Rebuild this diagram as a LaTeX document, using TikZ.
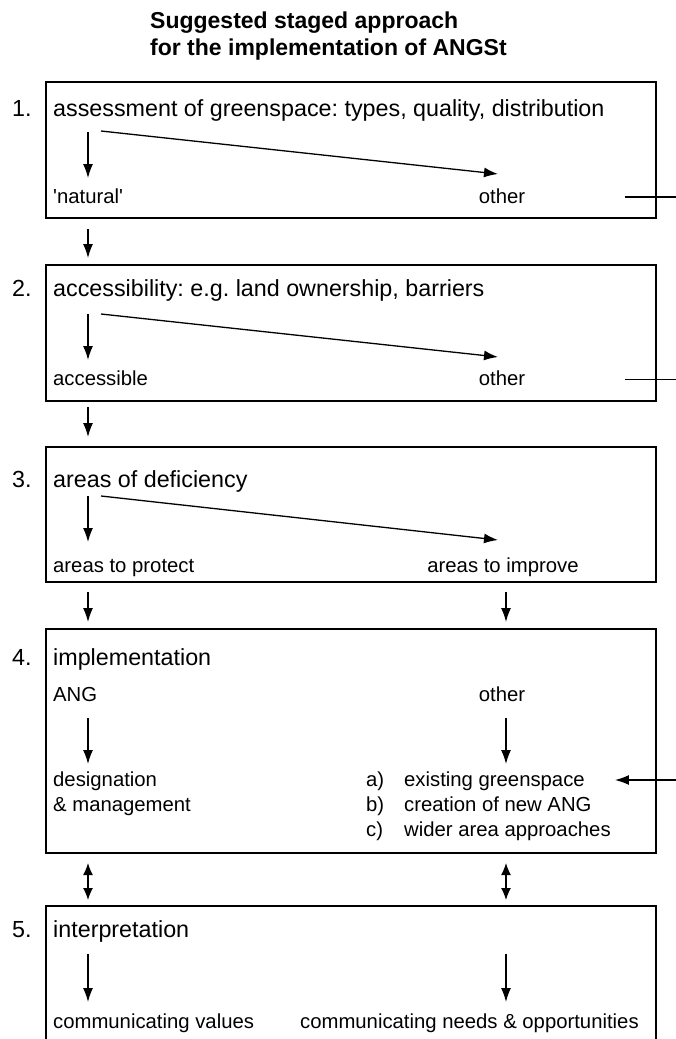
\documentclass[tikz,border=0pt]{standalone}
\usepackage{fontspec}
\setmainfont{Liberation Sans}
\usetikzlibrary{arrows.meta}
\frenchspacing
\newcommand{\mainsize}{\fontsize{23.3}{28}\selectfont}
\newcommand{\subsize}{\fontsize{20.3}{25}\selectfont}
\begin{document}
\begin{tikzpicture}[x=1pt,y=-1pt,
    box/.style={draw, line width=1.3pt, inner sep=0pt, outer sep=0pt, minimum width=610pt, anchor=north west},
    head/.style={anchor=base west, inner sep=0pt, font=\mainsize},
    lbl/.style={anchor=base west, inner sep=0pt, font=\subsize},
    arr/.style={-{Latex[length=14pt,width=10pt]}, line width=1.3pt},
    darr/.style={{Latex[length=12pt,width=10pt]}-{Latex[length=12pt,width=10pt]}, line width=1.3pt}]
    \useasboundingbox (0,0) rectangle (676,1039);
    % title (base = second line)
    \node[anchor=base west, inner sep=0pt, align=left, font=\fontsize{23}{27}\selectfont\bfseries] (title) at (150,55)
        {Suggested staged approach\\for the implementation of ANGSt};
    % boxes
    \node[box, minimum height=136pt] (b1) at (46,82) {};
    \node[box, minimum height=136pt] (b2) at (46,265) {};
    \node[box, minimum height=135pt] (b3) at (46,447) {};
    \node[box, minimum height=224pt] (b4) at (46,629) {};
    \node[box, minimum height=160pt] (b5) at (46,906) {};
    \coordinate (colL) at (88,0);
    \coordinate (colR) at (506,0);
    % 1.
    \node[head] (n1) at (12,116) {1.};
    \node[head] (t1) at (53,116) {assessment of greenspace: types, quality, distribution};
    \node[lbl] (nat) at (53,203) {\textquotesingle natural\textquotesingle};
    \node[lbl, anchor=base] (oth1) at (502,203) {other};
    \draw[arr, shorten <=16pt, shorten >=25pt] (t1.base -| colL) -- (nat.base -| colL);
    \draw[arr] ([shift={(48,15)}]t1.base west) -- ([shift={(-4,-29)}]oth1.base);
    \coordinate (r1) at (625,197);
    \draw[line width=1.5pt] (r1) -- ++(60,0);
    % 2.
    \node[head] (n2) at (12,296) {2.};
    \node[head] (t2) at (53,296) {accessibility: e.g. land ownership, barriers};
    \node[lbl] (acc) at (53,385) {accessible};
    \node[lbl, anchor=base] (oth2) at (502,385) {other};
    \draw[arr, shorten <=18pt, shorten >=25pt] (t2.base -| colL) -- (acc.base -| colL);
    \draw[arr] ([shift={(48,18)}]t2.base west) -- ([shift={(-4,-28)}]oth2.base);
    \coordinate (r2) at (625,379);
    \draw[line width=0.8pt] (r2) -- ++(60,0);
    % 3.
    \node[head] (n3) at (12,487) {3.};
    \node[head] (t3) at (53,487) {areas of deficiency};
    \node[lbl] (prot) at (53,572) {areas to protect};
    \node[lbl, anchor=base] (impr) at (503,572) {areas to improve};
    \draw[arr, shorten <=9pt, shorten >=30pt] (t3.base -| colL) -- (prot.base -| colL);
    \draw[arr] ([shift={(48,9)}]t3.base west) -- ([shift={(-5,-32)}]impr.base);
    % 4.
    \node[head] (n4) at (12,665) {4.};
    \node[head] (t4) at (53,665) {implementation};
    \node[lbl] (ang) at (53,701) {ANG};
    \node[lbl, anchor=base] (oth4) at (502,701) {other};
    \node[lbl, align=left] (des) at (53,811) {designation\\\& management};
    \foreach \y/\k/\s [count=\i] in {786/a/existing greenspace, 811/b/creation of new ANG, 836/c/wider area approaches}{
        \node[lbl] (k\i) at (366,\y) {\k)};
        \node[lbl] (e\i) at (404,\y) {\s};
    }
    \draw[arr, shorten <=17pt, shorten >=47pt] (ang.base -| colL) -- (des.base -| colL);
    \draw[arr, shorten <=17pt, shorten >=22pt] (oth4.base -| colR) -- (e1.base -| colR);
    \coordinate (in4) at (680,780);
    \draw[arr, shorten >=30pt] (in4) -- (in4 -| e1.east);
    % 5.
    \node[head] (n5) at (12,937) {5.};
    \node[head] (t5) at (53,937) {interpretation};
    \node[lbl] (cv) at (53,1028) {communicating values};
    \node[lbl] (cn) at (300,1028) {communicating needs \& opportunities};
    \draw[arr, shorten <=17pt, shorten >=26pt] (t5.base -| colL) -- (cv.base -| colL);
    \draw[arr, shorten <=17pt, shorten >=26pt] (t5.base -| colR) -- (cn.base -| colR);
    % between the stages
    \draw[arr, shorten <=11pt, shorten >=7pt] (b1.south -| colL) -- (b2.north -| colL);
    \draw[arr, shorten <=6pt, shorten >=10pt] (b2.south -| colL) -- (b3.north -| colL);
    \draw[arr, shorten <=10pt, shorten >=7pt] (b3.south -| colL) -- (b4.north -| colL);
    \draw[arr, shorten <=10pt, shorten >=7pt] (b3.south -| colR) -- (b4.north -| colR);
    \draw[darr, shorten <=10pt, shorten >=6pt] (b4.south -| colL) -- (b5.north -| colL);
    \draw[darr, shorten <=10pt, shorten >=6pt] (b4.south -| colR) -- (b5.north -| colR);
\end{tikzpicture}
\end{document}
